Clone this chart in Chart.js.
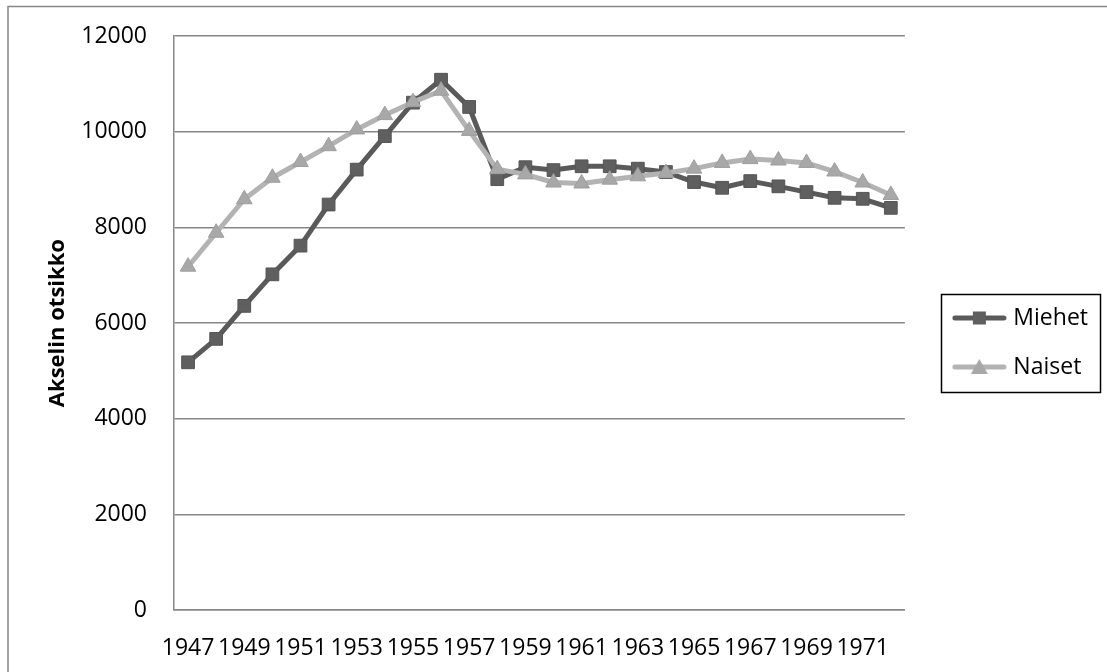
<!DOCTYPE html>
<html>
<head>
<meta charset="utf-8">
<script src="https://cdn.jsdelivr.net/npm/chart.js@4/dist/chart.umd.min.js"></script>
<style>
  html, body { margin: 0; padding: 0; background: #fff; }
  canvas { display: block; }
</style>
</head>
<body>
<canvas id="chart" width="1107" height="672"></canvas>
<script>
// vuodet x-akselilla
const years = ['1947', '1948', '1949', '1950', '1951', '1952', '1953', '1954', '1955',
  '1956', '1957', '1958', '1959', '1960', '1961', '1962', '1963', '1964', '1965',
  '1966', '1967', '1968', '1969', '1970', '1971', '1972'];

// sarjat
const miehet = [5180, 5670, 6360, 7020, 7620, 8480, 9210, 9910, 10610, 11090, 10520, 9010, 9260,
  9200, 9280, 9280, 9230, 9160, 8950, 8830, 8970, 8860, 8740, 8620, 8600, 8410];
const naiset = [7180, 7890, 8590, 9040, 9370, 9700, 10050, 10350, 10620, 10860, 10020, 9220, 9110,
  8940, 8920, 9000, 9070, 9140, 9230, 9350, 9430, 9400, 9350, 9170, 8940, 8680];

const yTicks = [0, 2000, 4000, 6000, 8000, 10000, 12000];

const gridGray = '#878787';

// legend sample: line + marker, drawn into a small canvas
function legendIcon(lineColor, markerColor, shape) {
  const c = document.createElement('canvas');
  c.width = 55; c.height = 20;
  const g = c.getContext('2d');
  g.strokeStyle = lineColor;
  g.lineWidth = 5;
  g.lineCap = 'round';
  g.beginPath(); g.moveTo(3, 10); g.lineTo(52, 10); g.stroke();
  g.fillStyle = markerColor;
  if (shape === 'rect') {
    g.fillRect(21, 3.5, 13, 13);
  } else {
    g.beginPath(); g.moveTo(27.5, 2); g.lineTo(36, 17); g.lineTo(19, 17); g.closePath(); g.fill();
  }
  return c;
}
const icons = [legendIcon('#5a5a5a', '#5f5f5f', 'rect'), legendIcon('#b3b3b3', '#a8a8a8', 'triangle')];

// outer frame (top + left only) and box round the legend
const framePlugin = {
  id: 'frame',
  afterDraw(chart) {
    const ctx = chart.ctx;
    ctx.save();
    ctx.strokeStyle = gridGray;
    ctx.lineWidth = 1.5;
    ctx.beginPath();
    ctx.moveTo(8, 672); ctx.lineTo(8, 6.5); ctx.lineTo(1107, 6.5);
    ctx.stroke();

    const hb = chart.legend.legendHitBoxes;
    if (hb && hb.length) {
      const x0 = hb[0].left - 16;
      const y0 = hb[0].top - 13;
      const last = hb[hb.length - 1];
      const y1 = last.top + last.height + 13;
      ctx.strokeStyle = '#000';
      ctx.lineWidth = 1.5;
      ctx.strokeRect(Math.round(x0) + 0.5, Math.round(y0) + 0.5, 159, Math.round(y1 - y0));
    }
    ctx.restore();
  }
};

Chart.defaults.font.family = '"Open Sans"';
Chart.defaults.font.size = 23;
Chart.defaults.color = '#000';

const ctx = document.getElementById('chart');
new Chart(ctx, {
  type: 'line',
  data: {
    labels: years,
    datasets: [{
      label: 'Miehet',
      data: miehet,
      yAxisID: 'y',
      borderColor: '#5a5a5a',
      borderWidth: 5,
      borderJoinStyle: 'round',
      pointStyle: 'rect',
      pointRadius: 9,
      pointBackgroundColor: '#5f5f5f',
      pointBorderColor: '#555555',
      pointBorderWidth: 1,
      tension: 0,
      order: 1
    }, {
      label: 'Naiset',
      data: naiset,
      yAxisID: 'y',
      borderColor: '#b3b3b3',
      borderWidth: 5,
      borderJoinStyle: 'round',
      pointStyle: 'triangle',
      pointRadius: 9,
      pointBackgroundColor: '#a8a8a8',
      pointBorderColor: '#9e9e9e',
      pointBorderWidth: 1,
      tension: 0,
      order: 0
    }]
  },
  options: {
    responsive: false,
    animation: false,
    events: [],
    layout: {
      padding: { left: 41, top: 30, right: 9, bottom: 17 }
    },
    scales: {
      x: {
        offset: true,
        grid: { display: false, drawTicks: false },
        border: { display: true, color: gridGray, width: 1.5 },
        ticks: {
          autoSkip: false,
          maxRotation: 0,
          minRotation: 0,
          padding: 25,
          callback: function (value, index) {
            return index % 2 === 0 ? this.getLabelForValue(value) : '';
          }
        },
        afterFit: (scale) => { scale.height = 45; }
      },
      y: {
        min: 0,
        max: 12000,
        afterBuildTicks: (scale) => { scale.ticks = yTicks.map(v => ({ value: v })); },
        grid: { color: gridGray, lineWidth: 1.5, drawTicks: false },
        border: { display: true, color: gridGray, width: 1.5 },
        ticks: { padding: 27, font: { lineHeight: 0.8 }, callback: (v) => String(v) },
        title: {
          display: true,
          text: 'Akselin otsikko',
          font: { weight: 'bold', size: 22 },
          padding: { top: 4, bottom: 12 }
        },
        afterFit: (scale) => { scale.width = 133; }
      },
      gap: {
        type: 'linear',
        position: 'right',
        display: true,
        grid: { display: false },
        border: { display: false },
        ticks: { display: false },
        afterFit: (scale) => { scale.width = 26; }
      }
    },
    plugins: {
      legend: {
        display: true,
        position: 'right',
        labels: {
          usePointStyle: true,
          pointStyleWidth: 45,
          padding: 26,
          font: { size: 23 },
          sort: (a, b) => a.datasetIndex - b.datasetIndex,
          generateLabels: (chart) => {
            const items = Chart.defaults.plugins.legend.labels.generateLabels(chart);
            items.forEach(it => { it.pointStyle = icons[it.datasetIndex]; });
            return items;
          }
        }
      },
      tooltip: { enabled: false }
    }
  },
  plugins: [framePlugin]
});
</script>
</body>
</html>
